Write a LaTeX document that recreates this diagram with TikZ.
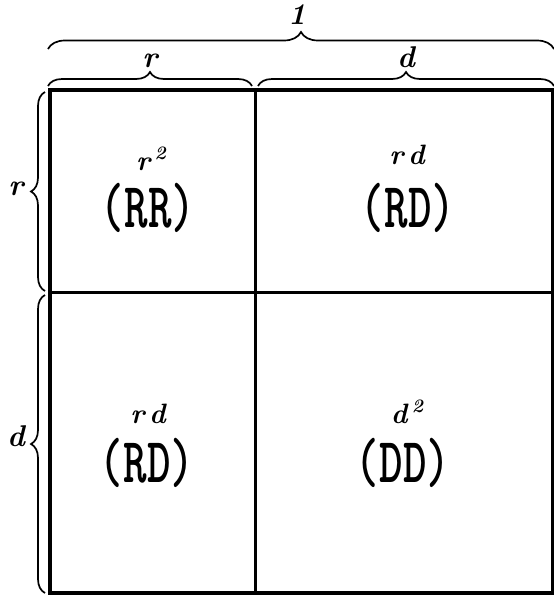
\documentclass[tikz,border=0pt]{standalone}
\usepackage{fontspec}
\usetikzlibrary{decorations.pathreplacing}
\begin{document}
\begin{tikzpicture}[x=1pt,y=-1pt,
  gridline/.style={line width=3pt},
  frame/.style={line width=4pt},
  brc/.style={decorate, decoration={brace, amplitude=#1}, line width=1.7pt},
  cell/.style={inner sep=0pt, font=\fontsize{64}{64}\selectfont\ttfamily\bfseries},
  sup/.style={inner sep=0pt, font=\fontsize{28}{28}\selectfont\bfseries\itshape},
  lab/.style={inner sep=0pt, font=\fontsize{30}{30}\selectfont\bfseries\itshape}]
\useasboundingbox (0,0) rectangle (554,597);
% square
\coordinate (tl) at (50,90);
\coordinate (br) at (553,593);
\coordinate (mt) at (255,90);
\coordinate (mb) at (255,593);
\coordinate (ml) at (50,292);
\coordinate (mr) at (553,292);
\draw[gridline] (mt) -- (mb);
\draw[gridline] (ml) -- (mr);
\draw[frame] (tl) rectangle (br);
% braces
\coordinate (b1a) at (48,49);
\coordinate (b1b) at (554,49);
\coordinate (bra) at (48,86);
\coordinate (brb) at (252,86);
\coordinate (bda) at (258,86);
\coordinate (bdb) at (554,86);
\coordinate (lra) at (45,291);
\coordinate (lrb) at (45,92);
\coordinate (lda) at (45,593);
\coordinate (ldb) at (45,295);
\draw[brc=17] (b1a) -- (b1b);
\draw[brc=14] (bra) -- (brb);
\draw[brc=14] (bda) -- (bdb);
\draw[brc=14] (lra) -- (lrb);
\draw[brc=14] (lda) -- (ldb);
% brace labels
\node[lab] (one) at (297,15) {1};
\node[lab] (rtop) at (150,61) {r};
\node[lab] (dtop) at (406,57) {d};
\node[lab] (rleft) at (16,189) {r};
\node[lab] (dleft) at (16,436) {d};
% cells
\node[cell] (rr) at (148,208) {\scalebox{0.7}[1]{(RR)}};
\node[cell] (rd1) at (408,208) {\scalebox{0.7}[1]{(RD)}};
\node[cell] (rd2) at (147,463) {\scalebox{0.7}[1]{(RD)}};
\node[cell] (dd) at (403,463) {\scalebox{0.7}[1]{(DD)}};
\node[sup] (srr) at (151,159) {r\,\raisebox{0.4em}{\fontsize{19}{19}\selectfont 2}};
\node[sup] (srd1) at (407,155) {r\,d};
\node[sup] (srd2) at (148,414) {r\,d};
\node[sup] (sdd) at (407,412) {d\,\raisebox{0.4em}{\fontsize{19}{19}\selectfont 2}};
\end{tikzpicture}
\end{document}
